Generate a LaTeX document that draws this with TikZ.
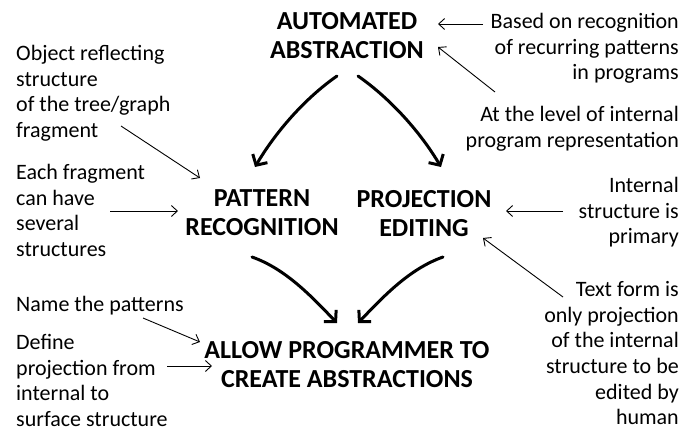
\documentclass[tikz,border=0pt]{standalone}
\usepackage{fontspec}
\setmainfont{Carlito}
\usetikzlibrary{arrows.meta}

\tikzset{
  heading/.style={align=center, inner sep=0pt, anchor=north,
    font=\bfseries\fontsize{26}{29.5}\selectfont},
  note/.style={inner sep=0pt, font=\fontsize{22}{25.7}\selectfont},
  leftnote/.style={note, align=left, anchor=north west},
  rightnote/.style={note, align=right, anchor=north east},
  bigarrow/.style={line width=3pt, line cap=round,
    -{Straight Barb[length=8pt,width=17pt,line width=3pt]}},
  thinarrow/.style={line width=0.9pt,
    -{Straight Barb[length=6pt,width=11pt,line width=0.9pt]}},
}

\begin{document}
\begin{tikzpicture}[x=1pt, y=-1pt]
\useasboundingbox (0,0) rectangle (696,429);

% main topics
\node[heading] (aa) at (347,12)  {AUTOMATED\\ABSTRACTION};
\node[heading] (pr) at (262,189) {PATTERN\\RECOGNITION};
\node[heading] (pe) at (424,190) {PROJECTION\\EDITING};
\node[heading] (ap) at (347,341) {ALLOW PROGRAMMER TO\\CREATE ABSTRACTIONS};

% remarks on the left
\node[leftnote] (t1) at (16,45)  {Object reflecting\\structure\\of the tree/graph\\fragment};
\node[leftnote] (t2) at (16,164) {Each fragment\\can have\\several\\structures};
\node[leftnote] (t3) at (16,296) {Name the patterns};
\node[leftnote] (t4) at (16,334) {Define\\projection from\\internal to\\surface structure};

% remarks on the right
\node[rightnote] (r1) at (679,13)  {Based on recognition\\of recurring patterns\\in programs};
\node[rightnote] (r2) at (679,106) {At the level of internal\\program representation};
\node[rightnote] (r3) at (679,177) {Internal\\structure is\\primary};
\node[rightnote] (r4) at (679,281) {Text form is\\only projection\\of the internal\\structure to be\\edited by\\human};

% ends of the thin pointers
\coordinate (r1o) at (483,24);  \coordinate (aai1) at (438,24);
\coordinate (r2o) at (495,92);  \coordinate (aai2) at (438,47);
\coordinate (t1o) at (121,126); \coordinate (pri1) at (200,178);
\coordinate (t2o) at (110,211); \coordinate (pri2) at (178,211);
\coordinate (r3o) at (563,211); \coordinate (pei1) at (506,211);
\coordinate (r4o) at (563,297); \coordinate (pei2) at (483,238);
\coordinate (t3o) at (143,318); \coordinate (api1) at (200,342);
\coordinate (t4o) at (167,366); \coordinate (api2) at (212,366);

\draw[thinarrow] (r1o) -- (aai1);
\draw[thinarrow] (r2o) -- (aai2);
\draw[thinarrow] (t1o) -- (pri1);
\draw[thinarrow] (t2o) -- (pri2);
\draw[thinarrow] (r3o) -- (pei1);
\draw[thinarrow] (r4o) -- (pei2);
\draw[thinarrow] (t3o) -- (api1);
\draw[thinarrow] (t4o) -- (api2);

% ends of the thick curved arrows
\coordinate (aal) at (337,76);  \coordinate (pro) at (255,167);
\coordinate (aar) at (358,76);  \coordinate (peo) at (441,167);
\coordinate (prb) at (252,257); \coordinate (apl) at (337,323);
\coordinate (peb) at (443,257); \coordinate (apr) at (358,323);

\draw[bigarrow] (aal) .. controls (304,99) and (275,133) .. (pro);
\draw[bigarrow] (aar) .. controls (391,99) and (421,133) .. (peo);
\draw[bigarrow] (prb) .. controls (286,269) and (312,297) .. (apl);
\draw[bigarrow] (peb) .. controls (409,269) and (383,297) .. (apr);
\end{tikzpicture}
\end{document}
